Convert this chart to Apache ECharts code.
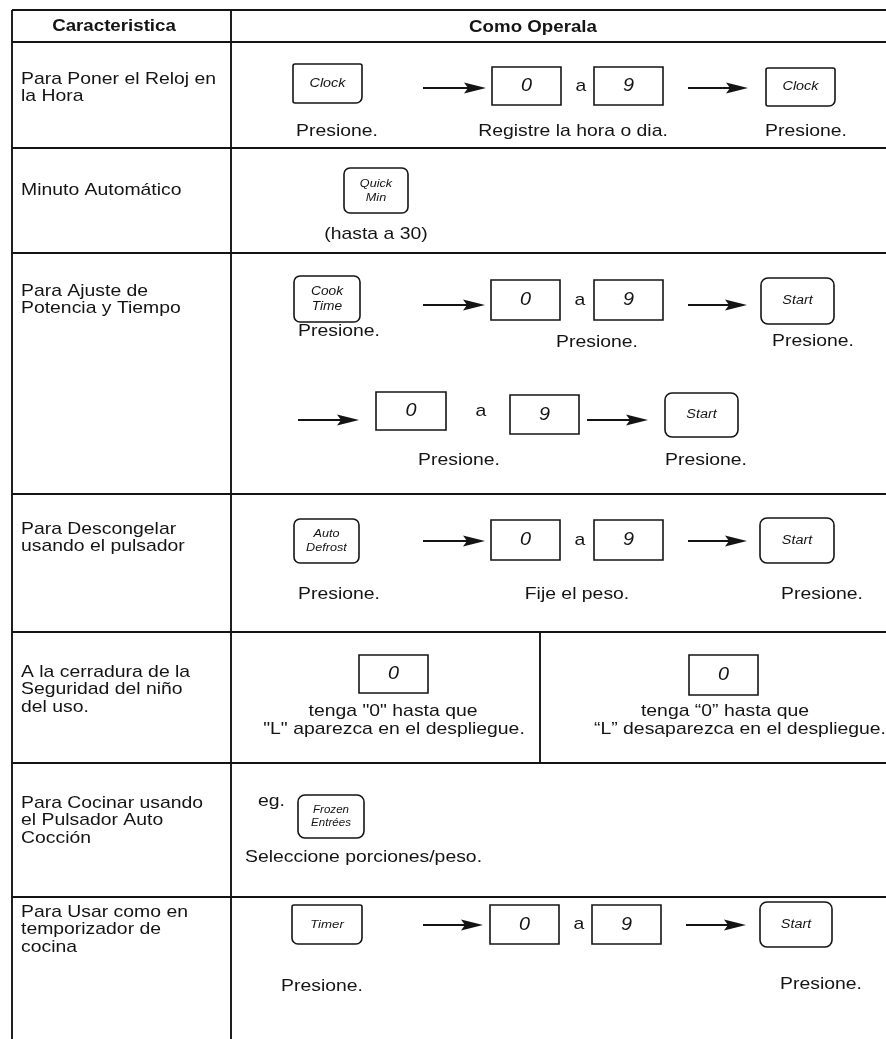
<!DOCTYPE html>
<html>
<head>
<meta charset="utf-8">
<script src="https://cdn.jsdelivr.net/npm/echarts@6/dist/echarts.min.js"></script>
<style>
html,body{margin:0;padding:0;background:#fff;}
#main{width:886px;height:1039px;}
</style>
</head>
<body>
<div id="main"></div>
<script>
// ---------- content ----------
const headers = ['Caracteristica', 'Como Operala'];
const features = [
  ['Para Poner el Reloj en', 'la Hora'],
  ['Minuto Automático'],
  ['Para Ajuste de', 'Potencia y Tiempo'],
  ['Para Descongelar', 'usando el pulsador'],
  ['A la cerradura de la', 'Seguridad del niño', 'del uso.'],
  ['Para Cocinar usando', 'el Pulsador Auto', 'Cocción'],
  ['Para Usar como en', 'temporizador de', 'cocina']
];
const keyLabels = {
  clock: ['Clock'], quick: ['Quick', 'Min'], cook: ['Cook', 'Time'],
  start: ['Start'], defrost: ['Auto', 'Defrost'], frozen: ['Frozen', 'Entrées'], timer: ['Timer']
};
const digits = ['0', '9'];
const joiner = 'a';
const press = 'Presione.';
const captions = {
  clockSet: 'Registre la hora o dia.',
  quickMax: '(hasta a 30)',
  weight: 'Fije el peso.',
  lockOn: ['tenga "0" hasta que', '"L" aparezca en el despliegue.'],
  lockOff: ['tenga \u201C0\u201D hasta que', '\u201CL\u201D desaparezca en el despliegue.'],
  eg: 'eg.',
  portions: 'Seleccione porciones/peso.'
};

// ---------- layout ----------
const W = 886, H = 1039;
const FONT = '"Liberation Sans", Arial, sans-serif';
const FS = 17, SX = 1.14;
const INK = '#141414';
const tableLeft = 12, colDiv = 231, tableTop = 10, headBottom = 42;
const rowLines = [148, 253, 494, 632, 763, 897];
const featureFirst = [85, 196, 297, 535, 678, 809, 918];
const LH = 17.5;

const els = [];
function line(x1, y1, x2, y2, w) {
  els.push({type: 'line', shape: {x1, y1, x2, y2}, style: {stroke: INK, lineWidth: w || 1.9}});
}
function text(x, baseline, s, o) {
  o = o || {};
  const fs = o.fs || FS;
  const align = o.align || 'left';
  els.push({
    type: 'text', x: x, y: baseline - fs * 0.34, scaleX: o.sx || SX,
    style: {
      text: s, x: 0, y: 0, fill: INK,
      font: (o.italic ? 'italic ' : '') + (o.bold ? 'bold ' : '') + fs + 'px ' + FONT,
      align: align, textAlign: align, verticalAlign: 'middle', textVerticalAlign: 'middle'
    }
  });
}
function ctext(x, y, s, fs, sx, italic) {
  els.push({
    type: 'text', x: x, y: y, scaleX: sx,
    style: {
      text: s, x: 0, y: 0, fill: INK,
      font: (italic ? 'italic ' : '') + fs + 'px ' + FONT,
      align: 'center', textAlign: 'center', verticalAlign: 'middle', textVerticalAlign: 'middle'
    }
  });
}
function key(x, y, w, h, labels, r, fs) {
  els.push({type: 'rect', shape: {x, y, width: w, height: h, r: r}, style: {fill: '#fff', stroke: INK, lineWidth: 1.6}});
  const cx = x + w / 2, cy = y + h / 2;
  const f = fs || 12.5;
  if (labels.length === 1) ctext(cx, cy, labels[0], f, 1.15, true);
  else {
    const gap = f * 1.22;
    labels.forEach((l, i) => ctext(cx, cy + (i - (labels.length - 1) / 2) * gap, l, f, 1.1, true));
  }
}
function digitBox(x, y, w, h, d) {
  els.push({type: 'rect', shape: {x, y, width: w, height: h}, style: {fill: '#fff', stroke: INK, lineWidth: 1.6}});
  ctext(x + w / 2, y + h / 2, d, 18, 1.1, true);
}
function arrow(x1, x2, y) {
  els.push({type: 'line', shape: {x1, y1: y, x2: x2 - 16, y2: y}, style: {stroke: INK, lineWidth: 2.2}});
  els.push({type: 'polygon', shape: {points: [[x2 - 22, y - 5.5], [x2, y], [x2 - 22, y + 5.5], [x2 - 18, y]]}, style: {fill: INK}});
}
function seq(y, h, arrowY, xs) {
  // xs: [arrow1 from, arrow1 to, box0 x, a x, box9 x, arrow2 from, arrow2 to]
  arrow(xs[0], xs[1], arrowY);
  digitBox(xs[2], y, 69, h, digits[0]);
  text(xs[3], y + h / 2 + 6, joiner, {align: 'center'});
  digitBox(xs[4], y, 69, h, digits[1]);
  arrow(xs[5], xs[6], arrowY);
}

// grid
line(tableLeft, tableTop, W, tableTop);
line(tableLeft, headBottom, W, headBottom);
rowLines.forEach(y => line(tableLeft, y, W, y));
line(tableLeft, tableTop, tableLeft, H);
line(colDiv, tableTop, colDiv, H);
line(540, rowLines[3], 540, rowLines[4]);

// header
text(114, 32, headers[0], {bold: true, align: 'center', sx: 1.1});
text(533, 33, headers[1], {bold: true, align: 'center', sx: 1.1});

// features
features.forEach((rows, i) => rows.forEach((s, j) => text(21, featureFirst[i] + j * LH, s)));

// row 1
key(293, 64, 69, 39, keyLabels.clock, [2, 2, 6, 2]);
seq(67, 38, 88, [423, 486, 492, 581, 594, 688, 748]);
key(766, 68, 69, 38, keyLabels.clock, [2, 2, 6, 2]);
text(337, 137, press, {align: 'center'});
text(573, 137, captions.clockSet, {align: 'center'});
text(806, 137, press, {align: 'center'});

// row 2
key(344, 168, 64, 45, keyLabels.quick, 6, 11.5);
text(376, 240, captions.quickMax, {align: 'center'});

// row 3
key(294, 276, 66, 46, keyLabels.cook, 6, 12.5);
seq(280, 40, 305, [423, 485, 491, 580, 594, 688, 747]);
key(761, 278, 73, 46, keyLabels.start, 7);
text(339, 337, press, {align: 'center'});
text(597, 348, press, {align: 'center'});
text(813, 347, press, {align: 'center'});
arrow(298, 359, 420);
digitBox(376, 392, 70, 38, digits[0]);
text(481, 417, joiner, {align: 'center'});
digitBox(510, 395, 69, 39, digits[1]);
arrow(587, 648, 420);
key(665, 393, 73, 44, keyLabels.start, 7);
text(459, 466, press, {align: 'center'});
text(706, 466, press, {align: 'center'});

// row 4
key(294, 519, 65, 44, keyLabels.defrost, 6, 11.5);
seq(520, 40, 541, [423, 485, 491, 580, 594, 688, 747]);
key(760, 518, 74, 45, keyLabels.start, 7);
text(339, 600, press, {align: 'center'});
text(577, 600, captions.weight, {align: 'center'});
text(822, 600, press, {align: 'center'});

// row 5
digitBox(359, 655, 69, 38, digits[0]);
text(393, 717, captions.lockOn[0], {align: 'center'});
text(394, 735, captions.lockOn[1], {align: 'center'});
digitBox(689, 655, 69, 40, digits[0]);
text(725, 717, captions.lockOff[0], {align: 'center'});
text(740, 735, captions.lockOff[1], {align: 'center'});

// row 6
text(258, 807, captions.eg);
key(298, 795, 66, 43, keyLabels.frozen, 7, 10.5);
text(245, 863, captions.portions);

// row 7
key(292, 905, 70, 39, keyLabels.timer, [2, 2, 6, 6], 11.5);
seq(905, 39, 925, [423, 483, 490, 579, 592, 686, 746]);
key(760, 902, 72, 45, keyLabels.start, 7);
text(322, 992, press, {align: 'center'});
text(821, 990, press, {align: 'center'});

const chart = echarts.init(document.getElementById('main'), null, {renderer: 'canvas'});
chart.setOption({
  backgroundColor: '#fff',
  animation: false,
  graphic: {elements: els}
});
</script>
</body>
</html>
